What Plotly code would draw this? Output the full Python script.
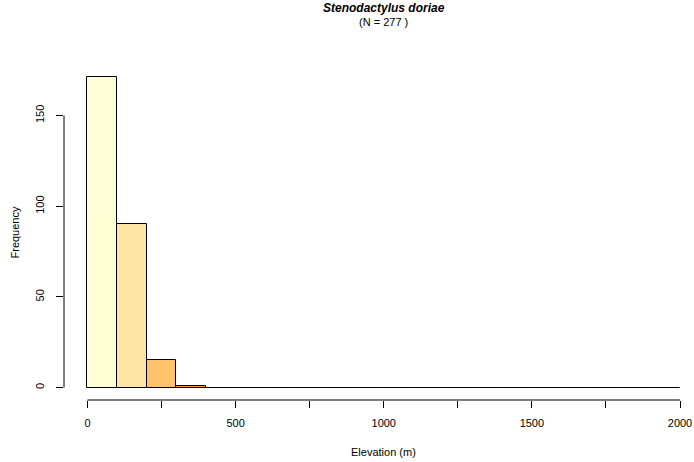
import plotly.graph_objects as go

# Data
bin_left = [0, 100, 200, 300, 400, 500, 600, 700, 800, 900,
            1000, 1100, 1200, 1300, 1400, 1500, 1600, 1700, 1800, 1900]
bin_width = 100
counts = [171, 90, 15, 1, 0, 0, 0, 0, 0, 0,
          0, 0, 0, 0, 0, 0, 0, 0, 0, 0]
bar_colors = ["#FFFFD6", "#FEE5A6", "#FEC46C", "#FE9A3A", "#EC7014", "#CC4C02",
              "#A63603", "#8C2D04", "#7A2804", "#662506",
              "#662506", "#662506", "#662506", "#662506", "#662506",
              "#662506", "#662506", "#662506", "#662506", "#662506"]
x_ticks = [0, 250, 500, 750, 1000, 1250, 1500, 1750, 2000]
x_ticktext = ["0", "", "500", "", "1000", "", "1500", "", "2000"]
y_ticks = [0, 50, 100, 150]
title = "Stenodactylus doriae"
subtitle = "(N = 277 )"
x_title = "Elevation (m)"
y_title = "Frequency"

centers = [b + bin_width / 2 for b in bin_left]

FONT = "Liberation Sans, Arial, Helvetica, sans-serif"

fig = go.Figure()
fig.add_trace(go.Bar(
    x=centers, y=counts, width=[bin_width] * len(counts),
    marker=dict(color=bar_colors, line=dict(color="#000000", width=1)),
    showlegend=False, hoverinfo="skip",
))

fig.update_layout(
    width=694, height=462,
    margin=dict(l=64, r=2, t=65, b=62),
    paper_bgcolor="white", plot_bgcolor="white",
    font=dict(family=FONT, size=11, color="#000000"),
    bargap=0,
    xaxis=dict(
        range=[-79.3, 2040.5], showgrid=False, zeroline=False, showline=False,
        tickmode="array", tickvals=x_ticks, ticktext=x_ticktext,
        ticks="outside", ticklen=7, tickwidth=1, tickcolor="#000000",
        tickfont=dict(family=FONT, size=11), ticklabelstandoff=6,
    ),
    yaxis=dict(
        range=[-6.84, 177.84], showgrid=False, zeroline=False, showline=False,
        tickmode="array", tickvals=y_ticks,
        ticks="outside", ticklen=7, tickwidth=1, tickcolor="#000000",
        tickangle=-90, tickfont=dict(family=FONT, size=11), ticklabelstandoff=8,
    ),
)

# axis lines (R style, spanning first to last tick)
fig.add_shape(type="line", xref="x", yref="paper", x0=x_ticks[0], x1=x_ticks[-1],
              y0=0, y1=0, line=dict(color="#000000", width=1))
fig.add_shape(type="line", xref="paper", yref="y", x0=0, x1=0,
              y0=y_ticks[0], y1=y_ticks[-1], line=dict(color="#000000", width=1))

fig.add_annotation(text="<b><i>" + title + "</i></b>", xref="paper", yref="paper",
                   x=0.509, y=1, yshift=57, showarrow=False,
                   font=dict(family=FONT, size=12), xanchor="center", yanchor="middle")
fig.add_annotation(text=subtitle, xref="paper", yref="paper",
                   x=0.509, y=1, yshift=43, showarrow=False,
                   font=dict(family=FONT, size=11), xanchor="center", yanchor="middle")
fig.add_annotation(text=x_title, xref="paper", yref="paper",
                   x=0.509, y=0, yshift=-52, showarrow=False,
                   font=dict(family=FONT, size=11), xanchor="center", yanchor="middle")
fig.add_annotation(text=y_title, xref="paper", yref="paper",
                   x=0, xshift=-50, y=0.5, showarrow=False, textangle=-90,
                   font=dict(family=FONT, size=11), xanchor="center", yanchor="middle")

fig.write_html("out.html",
               config={"displayModeBar": False},
               post_script="document.body.style.margin='0';document.body.style.overflow='hidden';")
